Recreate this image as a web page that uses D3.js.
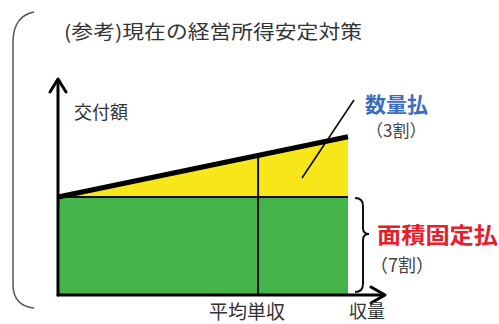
<!DOCTYPE html>
<html><head><meta charset="utf-8">
<script src="https://cdn.jsdelivr.net/npm/d3@7"></script>
<style>
html,body{margin:0;padding:0;background:#fff;}
svg{display:block;font-family:"Noto Sans CJK JP","Noto Sans CJK SC",sans-serif;}
</style></head><body>
<svg id="c" width="499" height="324"></svg>
<script>
// ---- data ----
const title = "(参考)現在の経営所得安定対策";
const yieldPoints = [0, 100];          // 収量 (relative)
const fixedPayment = [70, 70];         // 面積固定払 (7割)
const totalPayment = [70, 113];        // 固定払 + 数量払
const avgYield = 69;                   // 平均単収
const yLabel = "交付額";
const xLabel = "収量";
const avgLabel = "平均単収";
const qtyLabel = ["数量払", "（3割）"];
const fixLabel = ["面積固定払", "（7割）"];

const svg = d3.select("#c");
const x = d3.scaleLinear().domain([0, 100]).range([58, 348]);
const y = d3.scaleLinear().domain([0, 155]).range([295, 78]);

// left bracket
svg.append("path")
  .attr("d", "M34,12 Q14,16 13,40 L13,286 Q14,306 34,308")
  .attr("fill", "none").attr("stroke", "#555").attr("stroke-width", 1.5);

// title
svg.append("text").attr("x", 64).attr("y", 39)
  .attr("font-size", 19).attr("fill", "#333")
  .attr("textLength", 298).attr("lengthAdjust", "spacingAndGlyphs")
  .text(title);

const pts = yieldPoints.map((d, i) => ({x: d, fix: fixedPayment[i], tot: totalPayment[i]}));

// yellow area (quantity payment)
svg.append("path").datum(pts)
  .attr("fill", "#f7e619")
  .attr("d", d3.area().x(d => x(d.x)).y0(d => y(d.fix)).y1(d => y(d.tot)));

// green area (fixed payment)
svg.append("path").datum(pts)
  .attr("fill", "#45b54b")
  .attr("d", d3.area().x(d => x(d.x)).y0(y(0)).y1(d => y(d.fix)));

// boundary line between fixed and quantity
svg.append("path").datum(pts)
  .attr("fill", "none").attr("stroke", "#111").attr("stroke-width", 2)
  .attr("d", d3.line().x(d => x(d.x)).y(d => y(d.fix)));

// average yield vertical line
svg.append("line")
  .attr("x1", x(avgYield)).attr("x2", x(avgYield))
  .attr("y1", y(totalPayment[0] + (totalPayment[1] - totalPayment[0]) * avgYield / 100))
  .attr("y2", y(0))
  .attr("stroke", "#111").attr("stroke-width", 2);

// total payment thick line
svg.append("path").datum(pts)
  .attr("fill", "none").attr("stroke", "#000").attr("stroke-width", 5)
  .attr("d", d3.line().x(d => x(d.x)).y(d => y(d.tot)));

// axes with arrows
const ax = svg.append("g").attr("stroke", "#000").attr("fill", "none")
  .attr("stroke-width", 3).attr("stroke-linecap", "round").attr("stroke-linejoin", "round");
ax.append("line").attr("x1", x(0)).attr("y1", y(0)).attr("x2", x(0)).attr("y2", 80);
ax.append("path").attr("d", `M${x(0)-8},${92} L${x(0)},${79} L${x(0)+8},${92}`);
ax.append("line").attr("x1", x(0)).attr("y1", y(0)).attr("x2", 384).attr("y2", y(0));
ax.append("path").attr("d", `M${371},${y(0)-8} L${385},${y(0)} L${371},${y(0)+8}`);

// pointer line to 数量払
svg.append("line").attr("x1", 302).attr("y1", 178).attr("x2", 354).attr("y2", 100)
  .attr("stroke", "#000").attr("stroke-width", 1.5);

// brace for fixed payment
const bx = 355, bt = y(fixedPayment[1]) + 1, bb = 292, bm = 234;
svg.append("path")
  .attr("d", `M${bx},${bt} Q${bx+8},${bt} ${bx+8},${bt+8} L${bx+8},${bm-6} Q${bx+8},${bm} ${bx+14},${bm} Q${bx+8},${bm} ${bx+8},${bm+6} L${bx+8},${bb-8} Q${bx+8},${bb} ${bx},${bb}`)
  .attr("fill", "none").attr("stroke", "#111").attr("stroke-width", 2);

// labels
svg.append("text").attr("x", 74).attr("y", 119).attr("font-size", 18).attr("fill", "#333").text(yLabel);
svg.append("text").attr("x", x(avgYield) - 11).attr("y", 319).attr("font-size", 19)
  .attr("text-anchor", "middle").attr("fill", "#333").text(avgLabel);
svg.append("text").attr("x", 349).attr("y", 318).attr("font-size", 18).attr("fill", "#333").text(xLabel);

svg.append("text").attr("x", 365).attr("y", 112).attr("font-size", 21).attr("font-weight", "bold")
  .attr("fill", "#3c6cc0").text(qtyLabel[0]);
svg.append("text").attr("x", 366).attr("y", 137).attr("font-size", 17).attr("fill", "#444").text(qtyLabel[1]);

svg.append("text").attr("x", 377).attr("y", 243).attr("font-size", 22).attr("font-weight", "bold")
  .attr("fill", "#e3202b").attr("textLength", 121).attr("lengthAdjust", "spacingAndGlyphs").text(fixLabel[0]);
svg.append("text").attr("x", 370).attr("y", 272).attr("font-size", 18).attr("fill", "#444").text(fixLabel[1]);
</script>
</body></html>
